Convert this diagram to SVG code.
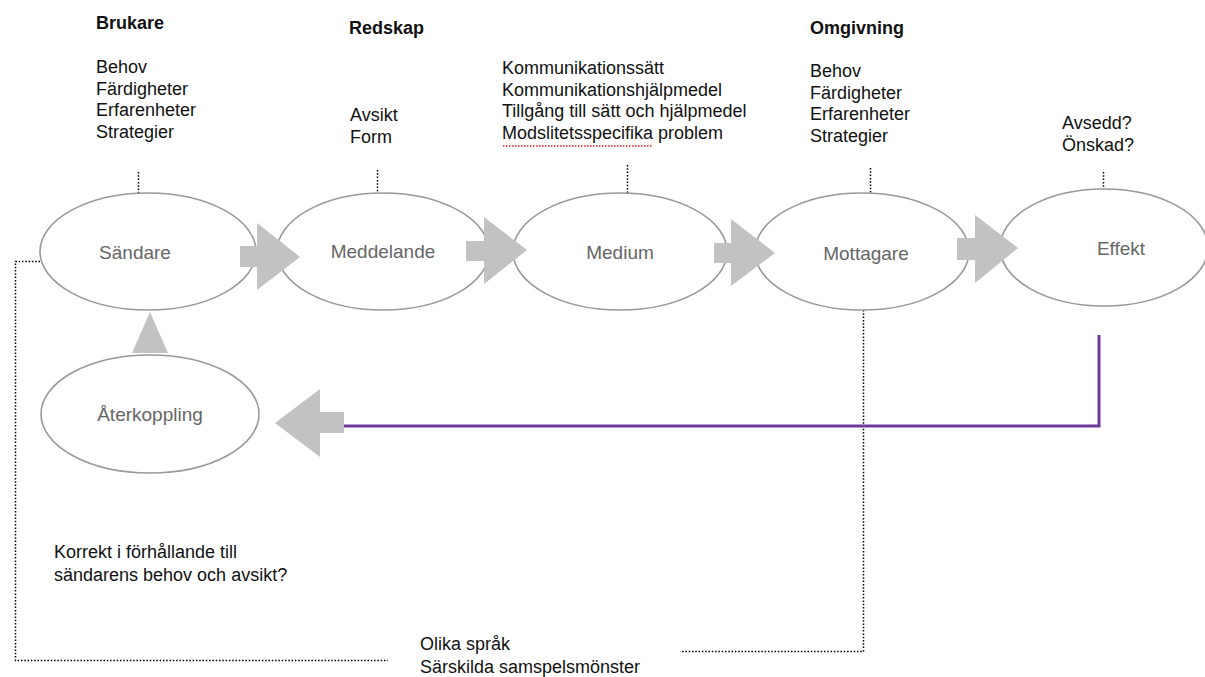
<svg xmlns="http://www.w3.org/2000/svg" width="1205" height="677" viewBox="0 0 1205 677">
<style>
.t{font-family:"Liberation Sans",Arial,sans-serif;font-size:18px;fill:#111}
.b{font-weight:bold}
.n{font-family:"Liberation Sans",Arial,sans-serif;font-size:19px;fill:#666;text-anchor:middle}
.e{fill:#fff;stroke:#999;stroke-width:1.6}
.d{fill:none;stroke:#000;stroke-width:1.5;stroke-dasharray:1.5 1.8}
.a{fill:#c2c2c2}
</style>
<rect width="1205" height="677" fill="#fff"/>
<g id="connectors">
<path class="d" d="M138.5 172V194M377.5 170V195M627.5 165V194M870.5 168V195M1103.5 172V189"/>
<path class="d" d="M40 261.5H15.5V660.5H388"/>
<path class="d" d="M863.5 310V651.5H680"/>
<path d="M1099 335V426H344" fill="none" stroke="#6e3a9a" stroke-width="3"/>
</g>
<g id="sandare"><ellipse class="e" cx="148" cy="251.5" rx="108" ry="58.5"/><text class="n" x="135" y="259">Sändare</text></g>
<g id="meddelande"><ellipse class="e" cx="383" cy="251.5" rx="106" ry="58.5"/><text class="n" x="383" y="258">Meddelande</text></g>
<g id="medium"><ellipse class="e" cx="620" cy="251.5" rx="107" ry="58.5"/><text class="n" x="620" y="259">Medium</text></g>
<g id="mottagare"><ellipse class="e" cx="862" cy="251.5" rx="107" ry="58.5"/><text class="n" x="866" y="260">Mottagare</text></g>
<g id="effekt"><ellipse class="e" cx="1104" cy="247.5" rx="104" ry="58.5"/><text class="n" x="1121" y="255">Effekt</text></g>
<g id="aterkoppling"><ellipse class="e" cx="150" cy="414" rx="109" ry="59"/><text class="n" x="150" y="421">Återkoppling</text></g>
<g id="arrows">
<path class="a" d="M240 246H257V223L300 257L257 290V267H240Z"/>
<path class="a" d="M466 241H484V217L527 250L484 284V261H466Z"/>
<path class="a" d="M714 243H731V219L775 253L731 286V263H714Z"/>
<path class="a" d="M957 238H975V215L1018 248L975 283V260H957Z"/>
<path class="a" d="M344 412H320V389L275 423L320 457V433H344Z"/>
<path class="a" d="M150 312L168 353H132Z"/>
</g>
<g id="brukare">
<text class="t b" x="96" y="29">Brukare</text>
<text class="t" x="96" y="73">Behov</text>
<text class="t" x="96" y="94.5">Färdigheter</text>
<text class="t" x="96" y="116">Erfarenheter</text>
<text class="t" x="96" y="137.5">Strategier</text>
</g>
<g id="redskap">
<text class="t b" x="349" y="34">Redskap</text>
<text class="t" x="350" y="121">Avsikt</text>
<text class="t" x="350" y="142.5">Form</text>
</g>
<g id="medium-text">
<text class="t" x="502" y="74">Kommunikationssätt</text>
<text class="t" x="502" y="95.5">Kommunikationshjälpmedel</text>
<text class="t" x="502" y="117">Tillgång till sätt och hjälpmedel</text>
<text class="t" x="502" y="138.5">Modslitetsspecifika problem</text>
<path d="M503 146H653" fill="none" stroke="#e02020" stroke-width="1.6" stroke-dasharray="1.5 1.5"/>
</g>
<g id="omgivning">
<text class="t b" x="810" y="34">Omgivning</text>
<text class="t" x="810" y="77">Behov</text>
<text class="t" x="810" y="98.5">Färdigheter</text>
<text class="t" x="810" y="120">Erfarenheter</text>
<text class="t" x="810" y="141.5">Strategier</text>
</g>
<g id="effekt-text">
<text class="t" x="1062" y="129">Avsedd?</text>
<text class="t" x="1062" y="151">Önskad?</text>
</g>
<g id="korrekt">
<text class="t" x="54" y="558">Korrekt i förhållande till</text>
<text class="t" x="54" y="581">sändarens behov och avsikt?</text>
</g>
<g id="olika">
<text class="t" x="420" y="650">Olika språk</text>
<text class="t" x="420" y="673">Särskilda samspelsmönster</text>
</g>
</svg>
